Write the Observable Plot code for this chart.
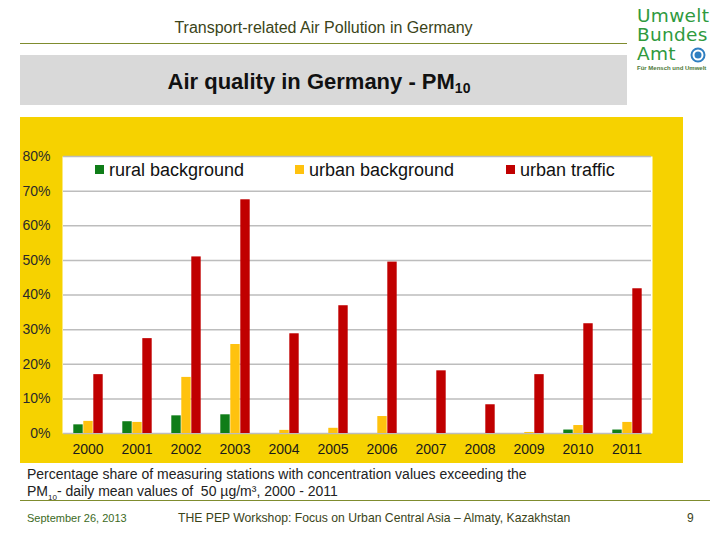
<!DOCTYPE html>
<html>
<head>
<meta charset="utf-8">
<script src="https://cdn.jsdelivr.net/npm/d3@7"></script>
<script src="https://cdn.jsdelivr.net/npm/@observablehq/plot@0.6"></script>
<style>
  html, body { margin: 0; padding: 0; background: #fff; }
  #slide { position: relative; width: 720px; height: 540px; overflow: hidden; font-family: "Liberation Sans", Arial, sans-serif; }
  .abs { position: absolute; }
  #hdr { left: 20px; width: 607px; top: 19px; text-align: center; font-size: 16px; color: #3b4419; }
  #hdrline { left: 20px; width: 607px; top: 43px; height: 1px; background: #7f8c2e; }
  #titlebox { left: 20px; width: 607px; top: 55px; height: 50px; background: #d9d9d9; }
  #title { left: 20px; width: 598px; top: 69px; text-align: center; font-size: 22px; font-weight: bold; color: #111; }
  #title sub { font-size: 14px; vertical-align: -4px; }
  #logo { left: 637px; top: 6px; color: #2f9a3e; font-family: "DejaVu Sans", sans-serif; font-size: 18.5px; line-height: 19px; letter-spacing: 0.3px; }
  #logosub { left: 637px; top: 65px; font-size: 6px; font-weight: bold; color: #4d7a3a; }
  #globe { left: 690px; top: 47px; }
  #chart { left: 20px; top: 117px; }
  #legend { left: 0; top: 160px; font-size: 18px; color: #111; }
  .li { position: absolute; white-space: nowrap; }
  .sw { display: inline-block; width: 9px; height: 9px; margin-right: 5px; vertical-align: 2px; }
  #cap { left: 27px; top: 466px; font-size: 14px; color: #222; line-height: 17px; }
  #cap sub { font-size: 8px; }
  #capline { left: 20px; width: 690px; top: 500px; height: 1px; background: #7f8c2e; }
  #date { left: 27px; top: 512px; font-size: 11px; color: #3c6a1e; }
  #foot { left: 178px; top: 511px; font-size: 12.2px; color: #3b4419; }
  #pg { left: 687px; top: 511px; font-size: 12px; color: #3b4419; }
</style>
</head>
<body>
<div id="slide">
  <div class="abs" id="hdr">Transport-related Air Pollution in Germany</div>
  <div class="abs" id="hdrline"></div>
  <div class="abs" id="titlebox"></div>
  <div class="abs" id="title">Air quality in Germany - PM<sub>10</sub></div>
  <div class="abs" id="logo">Umwelt<br>Bundes<br>Amt</div>
  <svg class="abs" id="globe" width="16" height="16"><circle cx="8" cy="8" r="6.5" fill="#fff" stroke="#2f7fc1" stroke-width="2"/><circle cx="8" cy="8" r="3.5" fill="#2f7fc1"/></svg>
  <div class="abs" id="logosub">Für Mensch und Umwelt</div>
  <div class="abs" id="chart"></div>
  <div class="abs" id="legend"></div>
  <div class="abs" id="cap">Percentage share of measuring stations with concentration values exceeding the<br>PM<sub>10</sub>- daily mean values of &nbsp;50 µg/m³, 2000 - 2011</div>
  <div class="abs" id="capline"></div>
  <div class="abs" id="date">September 26, 2013</div>
  <div class="abs" id="foot">THE PEP Workshop: Focus on Urban Central Asia – Almaty, Kazakhstan</div>
  <div class="abs" id="pg">9</div>
</div>
<script>
const years = [2000, 2001, 2002, 2003, 2004, 2005, 2006, 2007, 2008, 2009, 2010, 2011];
const series = ["rural background", "urban background", "urban traffic"];
const colors = ["#0f7d18", "#ffc20e", "#c00000"];
const ruralBackground = [2.5, 3.4, 5.1, 5.4, 0, 0, 0, 0, 0, 0, 1.0, 1.0];
const urbanBackground = [3.5, 3.2, 16.2, 25.7, 0.9, 1.5, 4.9, 0, 0, 0.3, 2.3, 3.2];
const urbanTraffic = [17.0, 27.4, 51.0, 67.5, 28.8, 36.9, 49.5, 18.1, 8.3, 17.0, 31.7, 41.8];
const yTicks = [0, 10, 20, 30, 40, 50, 60, 70, 80];

const valuesBySeries = [ruralBackground, urbanBackground, urbanTraffic];
const data = [];
years.forEach((yr, i) => series.forEach((s, j) => data.push({year: yr, series: s, value: valuesBySeries[j][i]})));

const chart = Plot.plot({
  width: 663,
  height: 346,
  marginLeft: 40,
  marginRight: 29,
  marginTop: 39,
  marginBottom: 30,
  style: {background: "#f6d200", fontFamily: "Liberation Sans, Arial, sans-serif", fontSize: "14px", color: "#1a1a1a", overflow: "visible"},
  fx: {domain: years, paddingInner: 0, paddingOuter: 0, label: null},
  x: {domain: series, paddingInner: 0, paddingOuter: 0.76, axis: null},
  y: {domain: [0, 80], label: null},
  color: {domain: series, range: colors},
  marks: [
    Plot.frame({fill: "white", stroke: "none", insetLeft: -1, insetRight: -1}),
    Plot.gridY(yTicks, {stroke: "#bdbdbd", strokeOpacity: 1, strokeWidth: 1.5}),
    Plot.axisY(yTicks, {tickSize: 0, tickPadding: 13, tickFormat: d => d + "%", label: null, fontSize: 14, fill: "#2a2a2a"}),
    Plot.axisFx({anchor: "bottom", tickSize: 0, tickPadding: 11, tickFormat: d => String(d), label: null, fontSize: 14}),
    Plot.barY(data, {fx: "year", x: "series", y: "value", fill: "series", insetLeft: 0.3, insetRight: 0.3})
  ]
});
document.getElementById("chart").appendChild(chart);

const legend = document.getElementById("legend");
const legendX = [95, 295, 506];
series.forEach((s, j) => {
  const item = document.createElement("div");
  item.className = "li";
  item.style.left = legendX[j] + "px";
  item.innerHTML = `<span class="sw" style="background:${colors[j]}"></span>${s}`;
  legend.appendChild(item);
});
</script>
</body>
</html>
